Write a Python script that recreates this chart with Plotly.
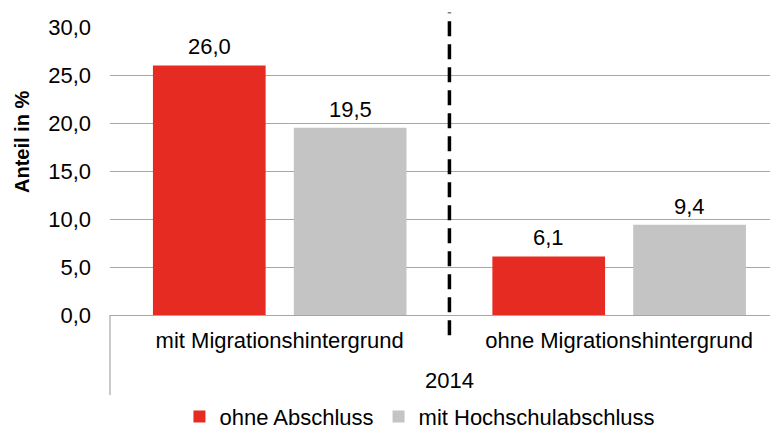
import plotly.graph_objects as go

gruppen = ["mit Migrationshintergrund", "ohne Migrationshintergrund"]
jahr = "2014"
serien = ["ohne Abschluss", "mit Hochschulabschluss"]
ohne_abschluss = [26.0, 6.1]
mit_hochschule = [19.5, 9.4]
farben = ["#E62B22", "#C4C4C4"]

bargap = 0.17
x_pos = list(range(len(gruppen)))
x_range = [-0.5, 1.468]

fig = go.Figure()
for name, werte, farbe in zip(serien, [ohne_abschluss, mit_hochschule], farben):
    fig.add_trace(go.Bar(x=x_pos, y=werte, name=name, marker_color=farbe,
                         marker_line_width=0))

# Werte über den Balken
slot = (1 - bargap) / 2
annots = []
for i, werte in enumerate([ohne_abschluss, mit_hochschule]):
    off = (i - 0.5) * slot
    for x, v in zip(x_pos, werte):
        annots.append(dict(x=x + off, y=v, xref="x", yref="y",
                           text=f"{v:.1f}".replace(".", ","), showarrow=False,
                           yanchor="bottom", yshift=4,
                           font=dict(size=22, color="#000000")))

# Jahr unter den Kategorien
annots.append(dict(x=0.5, y=-0.229, xref="x", yref="paper", text=jahr,
                   yanchor="middle", showarrow=False, font=dict(size=22, color="#000000")))
# y-Achsentitel
annots.append(dict(x=-0.132, y=0.6, xref="paper", yref="paper", text="<b>Anteil in %</b>",
                   xanchor="center", yanchor="middle", textangle=-90, showarrow=False,
                   font=dict(size=20, color="#000000")))

fig.update_layout(annotations=annots)

mitte = (0.5 - x_range[0]) / (x_range[1] - x_range[0])
fig.add_shape(type="line", xref="x domain", yref="paper", x0=mitte, x1=mitte,
              y0=-0.07, y1=1.05, line=dict(color="#000000", width=3.5, dash="15px,8px"))
fig.add_shape(type="line", xref="x domain", yref="paper", x0=0, x1=0,
              y0=0, y1=-0.278, line=dict(color="#A6A6A6", width=1.2))

# Seite hat 8px Rand -> Figur etwas kleiner
fig.update_layout(
    width=770, height=422,
    margin=dict(l=102, r=0, t=19, b=115, autoexpand=False),
    paper_bgcolor="white", plot_bgcolor="white",
    font=dict(family="Liberation Sans, Arial, sans-serif", size=22, color="#000000"),
    separators=",.",
    barmode="group", bargap=bargap, bargroupgap=0.2,
    showlegend=True,
    legend=dict(orientation="h", x=0.464, xanchor="center", y=-0.28, yanchor="top",
                font=dict(size=22), traceorder="normal"),
    xaxis=dict(range=x_range, tickvals=x_pos, ticktext=gruppen, showgrid=False,
               zeroline=False, showline=False, ticks="", automargin=False,
               ticklabelstandoff=10, tickfont=dict(size=22)),
    yaxis=dict(range=[0, 30], dtick=5, tickformat=".1f", showgrid=True,
               gridcolor="#A6A6A6", gridwidth=1.2, zeroline=True, zerolinecolor="#A6A6A6",
               zerolinewidth=1.2, ticks="", ticklabelstandoff=18, automargin=False,
               tickfont=dict(size=22)),
)

fig.write_html("out.html")
